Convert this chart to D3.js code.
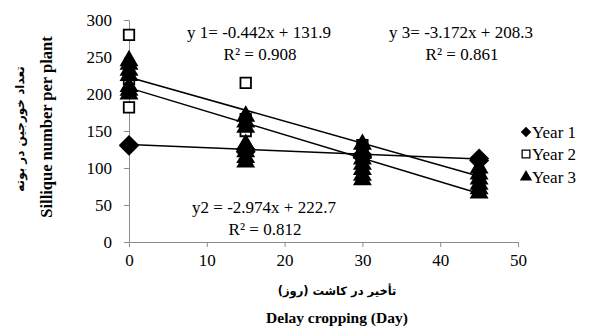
<!DOCTYPE html>
<html lang="en">
    <head>
        <meta charset="utf-8">
        <title>Sillique number per plant</title>
        <script type="text/javascript" src="https://d3js.org/d3.v7.min.js"></script>
        <style type="text/css">
            body { margin: 0; background: #fff; }
            svg text { font-family: "Liberation Serif", "DejaVu Serif", serif; fill: #000; }
            .axis path, .axis line { stroke: #8c8c8c; }
        </style>
    </head>
    <body>
        <div id="chart"></div>
        <script type="text/javascript">
            // delay in days, replicate readings per year
            const year1X = [0, 0, 15, 15, 30, 30, 45, 45]
            const year1Y = [131, 130, 125, 122, 118, 115, 113, 110]
            const year2X = [0, 0, 0, 15, 15, 15, 30, 30, 45, 45]
            const year2Y = [280, 220, 182, 215, 166, 150, 131, 125, 90, 85]
            const year3X = [0, 0, 0, 0, 0, 0, 0, 15, 15, 15, 15, 15, 15, 15, 30, 30, 30, 30, 30, 30, 30, 45, 45, 45, 45, 45, 45]
            const year3Y = [245, 240, 232, 225, 210, 205, 200, 170, 162, 155, 132, 122, 114, 108, 132, 120, 112, 105, 98, 90, 84, 100, 92, 85, 78, 72, 66]
            // trend lines: slope, intercept
            const trendSlope = [-0.442, -2.974, -3.172]
            const trendIntercept = [131.9, 222.7, 208.3]
            const legendLabels = ["Year 1", "Year 2", "Year 3"]
            const xTicks = [0, 10, 20, 30, 40, 50]
            const yTicks = [0, 50, 100, 150, 200, 250, 300]

            const width = 589, height = 331
            const margin = {top: 20, right: 71, bottom: 89, left: 129}
            const serif = "'Liberation Serif', 'DejaVu Serif', serif"

            let xScale = d3.scaleLinear().domain([0, 50]).range([margin.left, width - margin.right])
            let yScale = d3.scaleLinear().domain([0, 300]).range([height - margin.bottom, margin.top])

            const svg = d3.select("#chart").append("svg")
                .attr("width", width)
                .attr("height", height)
                .style("font-family", serif)

            svg.append("g")
                .attr("class", "axis")
                .attr("transform", "translate(0," + yScale(0) + ")")
                .call(d3.axisBottom(xScale).tickValues(xTicks).tickSize(5).tickSizeOuter(0).tickPadding(7))
                .call(g => g.attr("font-family", null).attr("font-size", null))
                .call(g => g.selectAll("text").style("font-family", serif).style("font-size", "17px"))

            svg.append("g")
                .attr("class", "axis")
                .attr("transform", "translate(" + xScale(0) + ",0)")
                .call(d3.axisLeft(yScale).tickValues(yTicks).tickSize(5).tickSizeOuter(0).tickPadding(12))
                .call(g => g.attr("font-family", null).attr("font-size", null))
                .call(g => g.selectAll("text").style("font-family", serif).style("font-size", "17px"))

            // trend lines
            trendSlope.forEach((s, i) => {
                svg.append("line")
                    .attr("x1", xScale(0)).attr("y1", yScale(trendIntercept[i]))
                    .attr("x2", xScale(45)).attr("y2", yScale(trendIntercept[i] + s * 45))
                    .attr("stroke", "#000").attr("stroke-width", 1.5)
            })

            const diamond = d3.symbol().type(d3.symbolSquare).size(200)
            const square = d3.symbol().type(d3.symbolSquare).size(110)
            const triangle = d3.symbol().type(d3.symbolTriangle).size(155)

            svg.append("g").selectAll("path")
                .data(year1X.map((x, i) => [x, year1Y[i]]))
                .join("path")
                .attr("d", diamond)
                .attr("transform", d => "translate(" + xScale(d[0]) + "," + yScale(d[1]) + ") rotate(45)")
                .attr("fill", "#000")

            svg.append("g").selectAll("path")
                .data(year2X.map((x, i) => [x, year2Y[i]]))
                .join("path")
                .attr("d", square)
                .attr("transform", d => "translate(" + xScale(d[0]) + "," + yScale(d[1]) + ")")
                .attr("fill", "#fff").attr("stroke", "#000").attr("stroke-width", 1.8)

            svg.append("g").selectAll("path")
                .data(year3X.map((x, i) => [x, year3Y[i]]))
                .join("path")
                .attr("d", triangle)
                .attr("transform", d => "translate(" + xScale(d[0]) + "," + yScale(d[1]) + ")")
                .attr("fill", "#000")

            // equations
            const eq = svg.append("g").attr("text-anchor", "middle")
            const eqText = (x, y, t) => eq.append("text").attr("x", x).attr("y", y)
                .style("font-family", serif).style("font-size", "17px").text(t)
            eqText(259, 38, "y 1= -0.442x + 131.9")
            eqText(260, 60, "R² = 0.908")
            eqText(461, 38, "y 3= -3.172x + 208.3")
            eqText(462, 60, "R² = 0.861")
            eqText(264, 213, "y2 = -2.974x + 222.7")
            eqText(265, 235, "R² = 0.812")

            // legend
            const legend = svg.append("g").attr("transform", "translate(526,0)")
            const legendY = [137, 159, 182]
            legend.append("path").attr("d", d3.symbol().type(d3.symbolSquare).size(55))
                .attr("transform", "translate(0," + (legendY[0] - 5) + ") rotate(45)")
            legend.append("path").attr("d", d3.symbol().type(d3.symbolSquare).size(60))
                .attr("transform", "translate(0," + (legendY[1] - 5) + ")")
                .attr("fill", "#fff").attr("stroke", "#000").attr("stroke-width", 1.3)
            legend.append("path").attr("d", d3.symbol().type(d3.symbolTriangle).size(65))
                .attr("transform", "translate(0," + (legendY[2] - 5) + ")")
            legendLabels.forEach((l, i) => {
                legend.append("text").attr("x", 6).attr("y", legendY[i] + 1)
                    .style("font-family", serif).style("font-size", "17px").text(l)
            })

            // axis titles
            svg.append("text")
                .attr("x", 337).attr("y", 295)
                .attr("text-anchor", "middle")
                .style("font-size", "11.5px").style("font-weight", "bold")
                .style("font-family", "'DejaVu Sans', sans-serif")
                .attr("direction", "rtl")
                .text("تأخیر در کاشت (روز)")
            svg.append("text")
                .attr("x", 337).attr("y", 323)
                .attr("text-anchor", "middle")
                .style("font-family", serif).style("font-size", "15.5px").style("font-weight", "bold")
                .text("Delay cropping (Day)")

            svg.append("text")
                .attr("transform", "translate(52,127) rotate(-90)")
                .attr("text-anchor", "middle")
                .style("font-family", serif).style("font-size", "16.5px").style("font-weight", "bold")
                .text("Sillique number per plant")
            svg.append("text")
                .attr("transform", "translate(24,129) rotate(-90)")
                .attr("text-anchor", "middle")
                .style("font-size", "12px").style("font-weight", "bold")
                .style("font-family", "'DejaVu Sans', sans-serif")
                .attr("direction", "rtl")
                .text("تعداد خورجین در بوته")
        </script>
    </body>
</html>
